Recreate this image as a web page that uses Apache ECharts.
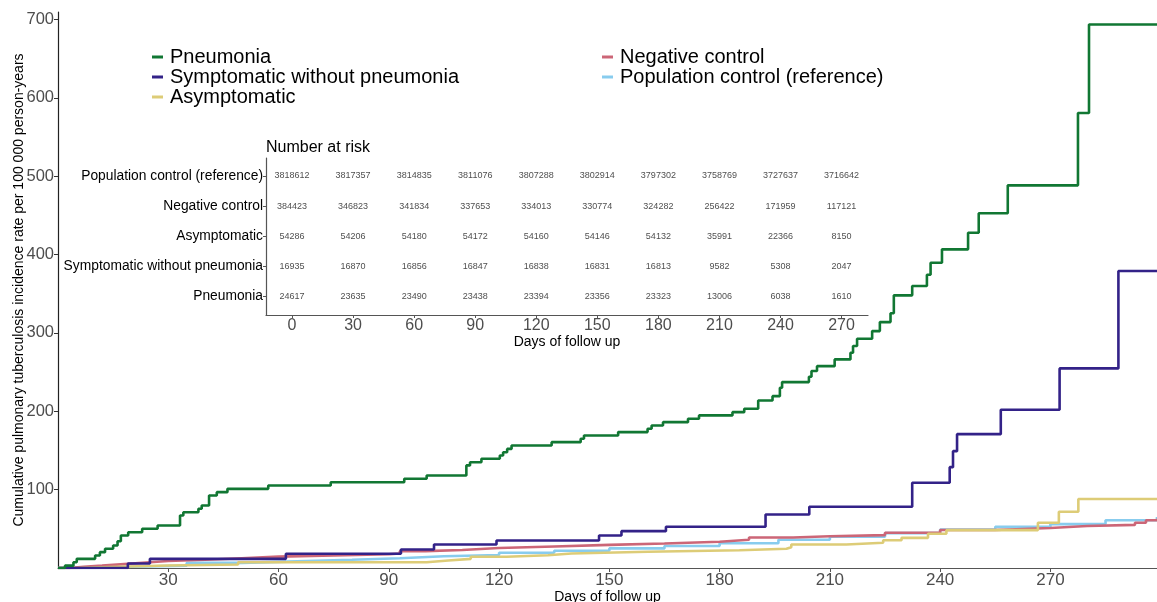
<!DOCTYPE html>
<html>
<head>
<meta charset="utf-8">
<script src="https://cdn.jsdelivr.net/npm/echarts@6/dist/echarts.min.js"></script>
<style>
  html, body { margin: 0; padding: 0; background: #fff; }
  #chart { width: 1157px; height: 602px; }
</style>
</head>
<body>
<div id="chart"></div>
<script>
// ---- Data ----
// Step curves: [day, cumulative incidence per 100 000 person-years]
const pneumonia = [[0,0],[1.9,3],[4.2,7.4],[5.1,11.7],[10.1,16],[11.4,20.2],[12.8,24.5],[15,28.7],[16.2,34.2],[17.1,41.5],[19.1,45.7],[22.9,50],[27.1,54.3],[33.2,67],[34.1,71.2],[38.2,75.6],[39.1,79.8],[41.1,92.6],[43.2,96.8],[46.1,101],[57.2,105.3],[74.2,109.5],[94.2,113.9],[100.3,118],[111.1,130.9],[112.1,135],[115.2,139.4],[120.2,143.6],[121.1,147.8],[122.2,152],[123.4,156.4],[134.3,160.6],[142.2,165],[143.1,169],[152.4,173.4],[160.4,177.7],[161.5,181.9],[164.6,186.1],[171.4,190.5],[174.4,194.7],[183.5,198.9],[186.7,203.2],[190.5,213.8],[194.4,219.3],[196.4,230],[197,237.2],[204.3,244],[205,251.3],[206.5,257.6],[211.3,266.2],[215.6,274.7],[216.3,283.2],[217.4,292.6],[221.5,302.3],[223.6,313.8],[226.5,325],[227.4,347.9],[232.4,359.8],[236.4,374.3],[237.4,389.6],[240.5,406.6],[247.6,427.9],[250.5,452.6],[258.4,488.3],[277.5,580.6],[280.5,693.5],[299,693.5]];
const symptomatic = [[0,0],[19,5.7],[25,11.7],[62,18.1],[93.3,23.6],[102.3,30],[119.3,35.1],[147.2,41.5],[153.3,47],[165.4,52.6],[192.5,68.3],[204.4,78.1],[232.4,108.8],[242.6,128.7],[243.5,149.1],[244.6,170.8],[256.5,202],[272.5,254.7],[288.5,378.9],[299,378.9]];
const asymptomatic = [[0,0],[5,1],[12,2],[19,3.2],[30,4.5],[49,7.4],[100.3,9.6],[106.2,11.7],[112.3,14.3],[122,16.3],[133.3,18.5],[139.7,20.7],[160.5,22.7],[185.4,24.5],[198.2,26.6],[199.5,30],[214.5,32.2],[224.5,35.5],[229.5,38.5],[236.7,43.7],[241.7,48.3],[266.6,57.7],[272.3,71.7],[277.6,88],[299,88]];
const negativeControl = [[0,0],[3,1.5],[7,3],[12,5],[18,7],[24,9],[30,10.5],[40,12.5],[50,14.5],[60,16],[75,17.5],[90,18.5],[93,21.5],[100,23],[110,25.5],[120,27.5],[135,29.5],[150,31.3],[165,33.5],[180,36],[188,39],[200,40.5],[210,42],[225,45],[240,48.5],[255,51],[270,53.5],[280,55],[293,57.7],[296,61],[299,63]];
const populationControl = [[0,0],[10,1.5],[20,3],[35,6.5],[50,8.5],[65,10.5],[80,12.5],[93,15],[105,16.5],[120,19.4],[135,22],[150,25],[165,28],[180,31.5],[196,36],[210,40],[225,44.5],[240,49],[255,52.5],[270,56],[285,61],[299,65]];

// Number-at-risk table
const riskDays = [0,30,60,90,120,150,180,210,240,270];
const riskRowNames = ['Pneumonia','Symptomatic without pneumonia','Asymptomatic','Negative control','Population control (reference)'];
const riskPneumonia = [24617,23635,23490,23438,23394,23356,23323,13006,6038,1610];
const riskSymptomatic = [16935,16870,16856,16847,16838,16831,16813,9582,5308,2047];
const riskAsymptomatic = [54286,54206,54180,54172,54160,54146,54132,35991,22366,8150];
const riskNegative = [384423,346823,341834,337653,334013,330774,324282,256422,171959,117121];
const riskPopulation = [3818612,3817357,3814835,3811076,3807288,3802914,3797302,3758769,3727637,3716642];

const mainXTicks = [30,60,90,120,150,180,210,240,270];
const mainYTicks = [100,200,300,400,500,600,700];

// ---- Build options ----
const colors = {
  'Pneumonia': '#117733',
  'Symptomatic without pneumonia': '#332288',
  'Asymptomatic': '#DDCC77',
  'Negative control': '#CC6677',
  'Population control (reference)': '#88CCEE'
};
const FONT = '"Liberation Sans", Arial, sans-serif';

function lineSeries(name, data) {
  return {
    name: name, type: 'line', step: 'end', data: data,
    xAxisIndex: 0, yAxisIndex: 0,
    showSymbol: false, symbol: 'none',
    lineStyle: { color: colors[name], width: 2.6 },
    itemStyle: { color: colors[name] },
    emphasis: { disabled: true },
    animation: false
  };
}

const riskRows = [riskPneumonia, riskSymptomatic, riskAsymptomatic, riskNegative, riskPopulation];
const riskData = [];
riskRows.forEach((row, ri) => {
  row.forEach((v, di) => riskData.push([riskDays[di], ri + 1, v]));
});

const legendText = { fontFamily: FONT, fontSize: 20, color: '#000', lineHeight: 20, padding: [0,0,0,2] };

const chart = echarts.init(document.getElementById('chart'), null, { renderer: 'canvas' });
chart.setOption({
  animation: false,
  textStyle: { fontFamily: FONT },
  grid: [
    { left: 58, top: 12, right: 0, bottom: 34, containLabel: false, outerBoundsMode: 'none' },
    { left: 266, top: 158, width: 602, height: 157, containLabel: false, outerBoundsMode: 'none' }
  ],
  title: {
    text: 'Number at risk', left: 261, top: 135,
    textStyle: { fontFamily: FONT, fontSize: 16, fontWeight: 'normal', color: '#000' }
  },
  legend: [
    {
      data: ['Pneumonia', 'Symptomatic without pneumonia', 'Asymptomatic'],
      orient: 'vertical', left: 147, top: 42, itemGap: 0,
      itemWidth: 11, itemHeight: 3, icon: 'rect', selectedMode: false,
      textStyle: legendText
    },
    {
      data: ['Negative control', 'Population control (reference)'],
      orient: 'vertical', left: 597, top: 42, itemGap: 0,
      itemWidth: 11, itemHeight: 3, icon: 'rect', selectedMode: false,
      textStyle: legendText
    }
  ],
  xAxis: [
    {
      type: 'value', gridIndex: 0, min: 0, max: 299,
      name: 'Days of follow up', nameLocation: 'middle', nameGap: 22, nameMoveOverlap: false,
      nameTextStyle: { fontFamily: FONT, fontSize: 14, color: '#000' },
      axisLine: { show: true, onZero: false, lineStyle: { color: '#555', width: 1.2 } },
      axisTick: { show: true, length: 4, customValues: mainXTicks, lineStyle: { color: '#555' } },
      axisLabel: { customValues: mainXTicks, fontFamily: FONT, fontSize: 17, color: '#4d4d4d', margin: 4 },
      splitLine: { show: false }
    },
    {
      type: 'value', gridIndex: 1, min: -12.8, max: 283,
      name: 'Days of follow up', nameLocation: 'middle', nameGap: 20, nameMoveOverlap: false,
      nameTextStyle: { fontFamily: FONT, fontSize: 14, color: '#000' },
      axisLine: { show: true, onZero: false, lineStyle: { color: '#555', width: 1.2 } },
      axisTick: { show: true, length: 3, customValues: riskDays, lineStyle: { color: '#555' } },
      axisLabel: { customValues: riskDays, fontFamily: FONT, fontSize: 16, color: '#4d4d4d', margin: 3 },
      splitLine: { show: false }
    }
  ],
  yAxis: [
    {
      type: 'value', gridIndex: 0, min: 0, max: 709.5,
      name: 'Cumulative pulmonary tuberculosis incidence rate per 100 000 person-years',
      nameLocation: 'middle', nameGap: 32, nameMoveOverlap: false,
      nameTextStyle: { fontFamily: FONT, fontSize: 14, color: '#000' },
      axisLine: { show: true, onZero: false, lineStyle: { color: '#222', width: 1.2 } },
      axisTick: { show: true, length: 4, customValues: mainYTicks, lineStyle: { color: '#333' } },
      axisLabel: { customValues: mainYTicks, fontFamily: FONT, fontSize: 16.5, color: '#4d4d4d', margin: 4 },
      splitLine: { show: false }
    },
    {
      type: 'value', gridIndex: 1, min: 0.37, max: 5.6,
      axisLine: { show: true, onZero: false, lineStyle: { color: '#555', width: 1.2 } },
      axisTick: { show: true, length: 3, customValues: [1,2,3,4,5], lineStyle: { color: '#555' } },
      axisLabel: {
        customValues: [1,2,3,4,5], fontFamily: FONT, fontSize: 13.8, color: '#000', margin: 3,
        formatter: v => riskRowNames[Math.round(v) - 1] || ''
      },
      splitLine: { show: false }
    }
  ],
  series: [
    lineSeries('Population control (reference)', populationControl),
    lineSeries('Negative control', negativeControl),
    lineSeries('Asymptomatic', asymptomatic),
    lineSeries('Symptomatic without pneumonia', symptomatic),
    lineSeries('Pneumonia', pneumonia),
    {
      type: 'scatter', xAxisIndex: 1, yAxisIndex: 1, data: riskData,
      symbolSize: 0, silent: true,
      label: {
        show: true, position: 'inside',
        formatter: p => String(p.value[2]),
        fontFamily: FONT, fontSize: 9, color: '#1a1a1a'
      }
    }
  ]
});
</script>
</body>
</html>
